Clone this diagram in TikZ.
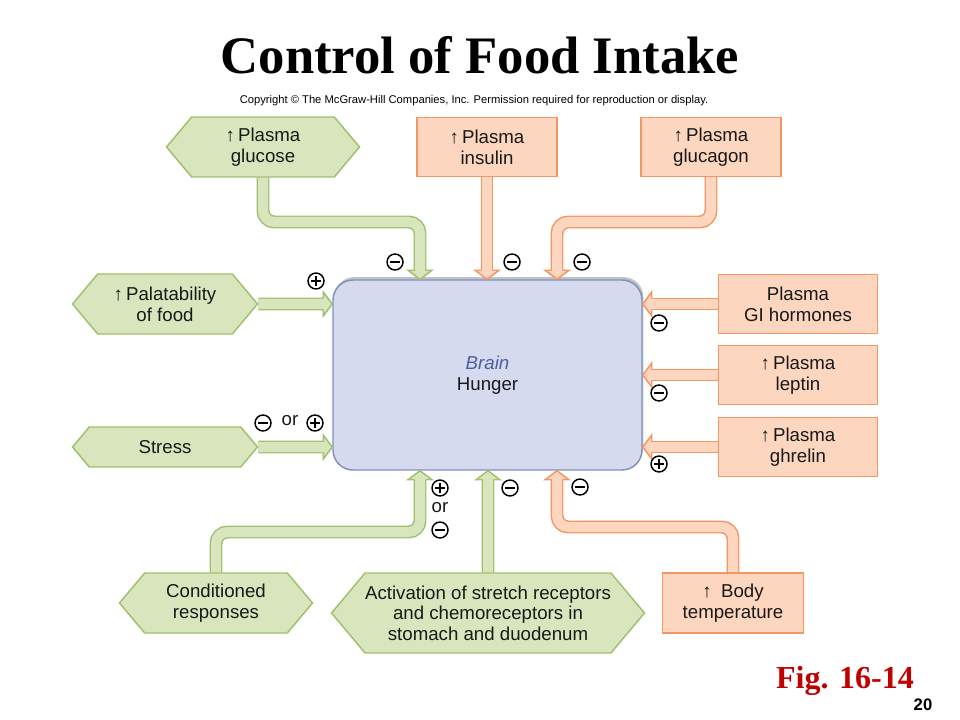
\documentclass[tikz,border=0pt]{standalone}
\usepackage{fontspec}
\setmainfont{Liberation Sans}
\newfontfamily\titlefont{Liberation Serif}
\usetikzlibrary{shapes.symbols,backgrounds,shadows}
\definecolor{gfill}{RGB}{217,229,189}
\definecolor{gline}{RGB}{160,192,110}
\definecolor{ofill}{RGB}{252,214,190}
\definecolor{oline}{RGB}{242,150,100}
\definecolor{bfill}{RGB}{214,218,238}
\definecolor{bline}{RGB}{125,145,190}
\definecolor{btext}{RGB}{75,95,160}
\definecolor{figred}{RGB}{192,0,0}

\begin{document}
\begin{tikzpicture}[x=0.75pt,y=-0.75pt,
    txt/.style={font=\fontsize{14}{15.5}\selectfont, align=center, text=black!90},
    hexa/.style={txt, shape=signal, signal to=west and east, signal pointer angle=100,
      fill=gfill, draw=gline, line width=1.1pt, inner sep=0pt},
    box/.style={txt, rectangle, fill=ofill, draw=oline, line width=1.1pt, inner sep=0pt,
      minimum width=105pt, minimum height=44.25pt},
    gtube/.style={draw=gline, line width=1.1pt, double=gfill, double distance=7.5pt,
      rounded corners=8.5pt, shorten >=6pt},
    otube/.style={gtube, draw=oline, double=ofill},
    ghead/.style={fill=gfill, draw=gline, line width=1.1pt},
    ohead/.style={fill=ofill, draw=oline, line width=1.1pt},
    head/.pic={
      \fill[pic actions, draw=none] (0,0) -- (-9,12) -- (-9,-12) -- cycle;
      \draw[pic actions, fill=none] (-9,5.5) -- (-9,12) -- (0,0) -- (-9,-12) -- (-9,-5.5);
    },
    sgn/.style={circle, draw, line width=1.1pt, minimum size=12pt, inner sep=0pt},
    minus/.style={sgn, path picture={
      \draw[line width=1.9pt] ([xshift=-3.4pt]path picture bounding box.center)
        -- ([xshift=3.4pt]path picture bounding box.center);}},
    plus/.style={sgn, path picture={
      \draw[line width=1.9pt] ([xshift=-3.4pt]path picture bounding box.center)
        -- ([xshift=3.4pt]path picture bounding box.center)
        ([yshift=-3.4pt]path picture bounding box.center)
        -- ([yshift=3.4pt]path picture bounding box.center);}}]
  \useasboundingbox (0,0) rectangle (960,720);

  \node (title) at (480,55) {\titlefont\bfseries\fontsize{39.5}{44}\selectfont Control of Food Intake};
  \node (copy) at (474,101) {\fontsize{8.4}{10}\selectfont Copyright © The McGraw-Hill Companies, Inc. Permission required for reproduction or display.};

  \node (brain) at (487.5,375) [rectangle, rounded corners=15pt, fill=bfill, draw=bline, line width=1.1pt,
    minimum width=231.75pt, minimum height=142.5pt, txt,
    drop shadow={shadow xshift=1pt, shadow yshift=2.2pt, fill=black!40, opacity=0.6}]
    {\textcolor{btext}{\itshape Brain}\\Hunger};

  \node (glu) at (263,147) [hexa, minimum width=144.75pt, minimum height=45pt] {↑\,Plasma\\glucose};
  \node (pal) at (165,304) [hexa, minimum width=138.75pt, minimum height=45pt] {↑\,Palatability\\of food};
  \node (str) at (165,447) [hexa, minimum width=138.75pt, minimum height=30pt] {Stress};
  \node (cnd) at (216,603) [hexa, minimum width=144.75pt, minimum height=45pt] {Conditioned\\responses};
  \node (act) at (488,613) [hexa, minimum width=234.75pt, minimum height=60pt]
    {Activation of stretch receptors\\and chemoreceptors in\\stomach and duodenum};

  \node (ins) at (487,147) [box] {↑\,Plasma\\insulin};
  \node (glc) at (711,147) [box] {↑\,Plasma\\glucagon};
  \node (gih) at (798,304) [box, minimum width=119.25pt] {Plasma\\GI hormones};
  \node (lep) at (798,375) [box, minimum width=119.25pt] {↑\,Plasma\\leptin};
  \node (ghr) at (798,447) [box, minimum width=119.25pt] {↑\,Plasma\\ghrelin};
  \node (bod) at (733,603) [box, minimum width=105.75pt, minimum height=45pt] {↑\enspace Body\\temperature};

  \begin{scope}[on background layer]
    \draw[gtube] (glu) |- (420,222) -- (brain.north -| 420,0);
    \draw[otube] (ins) -- (brain.north -| ins);
    \draw[otube] (glc) |- (557,222) -- (brain.north -| 557,0);
    \draw[gtube] (pal) -- (pal -| brain.west);
    \draw[gtube] (str) -- (str -| brain.west);
    \draw[otube] (gih) -- (gih -| brain.east);
    \draw[otube] (lep) -- (lep -| brain.east);
    \draw[otube] (ghr) -- (ghr -| brain.east);
    \draw[gtube] (cnd) |- (420,532) -- (brain.south -| 420,0);
    \draw[gtube] (act) -- (act |- brain.south);
    \draw[otube] (bod) |- (557,527) -- (brain.south -| 557,0);
  \end{scope}

  \pic[ghead, rotate=-90] at (brain.north -| 420,0) {head};
  \pic[ohead, rotate=-90] at (brain.north -| ins) {head};
  \pic[ohead, rotate=-90] at (brain.north -| 557,0) {head};
  \pic[ghead] at (pal -| brain.west) {head};
  \pic[ghead] at (str -| brain.west) {head};
  \pic[ohead, rotate=180] at (gih -| brain.east) {head};
  \pic[ohead, rotate=180] at (lep -| brain.east) {head};
  \pic[ohead, rotate=180] at (ghr -| brain.east) {head};
  \pic[ghead, rotate=90] at (brain.south -| 420,0) {head};
  \pic[ghead, rotate=90] at (act |- brain.south) {head};
  \pic[ohead, rotate=90] at (brain.south -| 557,0) {head};

  \foreach \p [count=\i] in {(395,262),(512,262),(582,262),(659,323),(659,393),
      (510,488),(580,487),(263,423),(440,530)}
    \node[minus] (m\i) at \p {};
  \foreach \p [count=\i] in {(316,281),(659,464),(315,423),(440,488)}
    \node[plus] (p\i) at \p {};
  \node (or1) at (290,421) [txt] {or};
  \node (or2) at (440,508) [txt] {or};

  \node (fig) at (845,681) [text=figred] {\titlefont\bfseries\fontsize{24}{26}\selectfont Fig. 16-14};
  \node (num) at (923,705) {\bfseries\fontsize{12.5}{14}\selectfont 20};
\end{tikzpicture}
\end{document}
